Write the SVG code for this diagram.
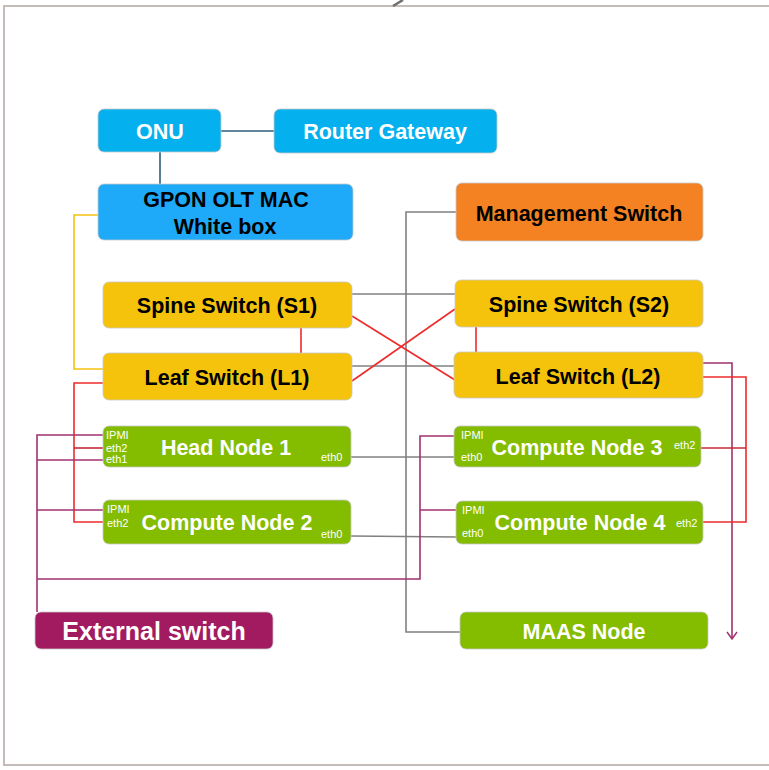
<svg xmlns="http://www.w3.org/2000/svg" width="769" height="770" viewBox="0 0 769 770">
<style>
.box{stroke:#c8c8c8;stroke-width:0.8}
.big{font-family:"Liberation Sans",Arial,sans-serif;font-weight:bold;font-size:21.5px;text-anchor:middle}
.w{fill:#ffffff}
.k{fill:#000000}
.sm{font-family:"Liberation Sans",Arial,sans-serif;font-size:11px;fill:#ffffff}
.c{fill:none;stroke-width:1.6}
.gray{stroke:#808080}
.red{stroke:#ee2b2b}
.dred{stroke:#c8283a}
.pur{stroke:#a0326f}
.yel{stroke:#f5c30c}
.teal{stroke:#2d5f7f}
</style>
<defs>
<marker id="arr" markerWidth="12" markerHeight="12" refX="10" refY="6" orient="auto" markerUnits="userSpaceOnUse">
<path d="M3,1 L10,6 L3,11" fill="none" stroke="#a0326f" stroke-width="1.5"/>
</marker>
</defs>
<rect x="0" y="0" width="769" height="770" fill="#ffffff"/>
<g id="frame">
<path d="M769,6 L4,6 L4,765 L769,765" fill="none" stroke="#c4bcb8" stroke-width="2"/>
<line x1="393" y1="6" x2="403" y2="0" stroke="#6e6e6e" stroke-width="2.5"/>
</g>
<g id="connectors">
<line class="c teal" x1="221" y1="131" x2="274" y2="131"/>
<line class="c teal" x1="160" y1="152" x2="160" y2="184"/>
<polyline class="c yel" points="98,215 74,215 74,369 103,369"/>
<polyline class="c gray" points="456,212 406,212 406,632 460,632"/>
<line class="c gray" x1="352" y1="294" x2="455" y2="294"/>
<line class="c gray" x1="352" y1="366" x2="454" y2="366"/>
<line class="c red" x1="301" y1="328" x2="301" y2="353"/>
<line class="c red" x1="476" y1="327" x2="476" y2="352"/>
<line class="c red" x1="352" y1="316" x2="455" y2="380"/>
<line class="c red" x1="352" y1="381" x2="455" y2="309"/>
<polyline class="c red" points="103,383 74,383 74,522 103,522"/>
<line class="c dred" x1="74" y1="448" x2="103" y2="448"/>
<line class="c gray" x1="351" y1="457" x2="454" y2="457"/>
<line class="c gray" x1="351" y1="536" x2="456" y2="537"/>
<polyline class="c pur" points="103,435 37,435 37,612"/>
<line class="c pur" x1="37" y1="460" x2="103" y2="460"/>
<line class="c pur" x1="37" y1="510" x2="103" y2="510"/>
<polyline class="c pur" points="37,579 420,579 420,436 454,436"/>
<line class="c pur" x1="420" y1="510" x2="456" y2="510"/>
<polyline class="c pur" points="703,363 732,363 732,639" marker-end="url(#arr)"/>
<polyline class="c red" points="703,377 746,377 746,522 703,522"/>
<line class="c dred" x1="701" y1="448" x2="746" y2="448"/>
</g>
<g id="onu">
<rect class="box" x="98" y="109" width="123" height="43" rx="6" fill="#05b0ee"/>
<text class="big w" x="160" y="139">ONU</text>
</g>
<g id="router">
<rect class="box" x="274" y="109" width="223" height="44" rx="6" fill="#05b0ee"/>
<text class="big w" x="385" y="139">Router Gateway</text>
</g>
<g id="gpon">
<rect class="box" x="98" y="184" width="255" height="56" rx="6" fill="#1eaaf8"/>
<text class="big k" x="226" y="207">GPON OLT MAC</text>
<text class="big k" x="225" y="234">White box</text>
</g>
<g id="mgmt">
<rect class="box" x="456" y="183" width="247" height="58" rx="6" fill="#f48222"/>
<text class="big k" x="579" y="221">Management Switch</text>
</g>
<g id="s1">
<rect class="box" x="103" y="282" width="249" height="46" rx="6" fill="#f5c30c"/>
<text class="big k" x="227" y="313">Spine Switch (S1)</text>
</g>
<g id="s2">
<rect class="box" x="455" y="280" width="248" height="47" rx="6" fill="#f5c30c"/>
<text class="big k" x="579" y="312">Spine Switch (S2)</text>
</g>
<g id="l1">
<rect class="box" x="103" y="353" width="249" height="47" rx="6" fill="#f5c30c"/>
<text class="big k" x="227" y="385">Leaf Switch (L1)</text>
</g>
<g id="l2">
<rect class="box" x="454" y="352" width="249" height="46" rx="6" fill="#f5c30c"/>
<text class="big k" x="578" y="384">Leaf Switch (L2)</text>
</g>
<g id="head1">
<rect class="box" x="103" y="426" width="248" height="41" rx="6" fill="#84bc00"/>
<text class="big w" x="226" y="455">Head Node 1</text>
<text class="sm" x="106" y="439">IPMI</text>
<text class="sm" x="106" y="452">eth2</text>
<text class="sm" x="106" y="463">eth1</text>
<text class="sm" x="321" y="461">eth0</text>
</g>
<g id="compute2">
<rect class="box" x="103" y="500" width="248" height="44" rx="6" fill="#84bc00"/>
<text class="big w" x="227" y="530">Compute Node 2</text>
<text class="sm" x="107" y="513">IPMI</text>
<text class="sm" x="107" y="527">eth2</text>
<text class="sm" x="321" y="538">eth0</text>
</g>
<g id="compute3">
<rect class="box" x="454" y="426" width="247" height="41" rx="6" fill="#84bc00"/>
<text class="big w" x="577" y="455">Compute Node 3</text>
<text class="sm" x="461" y="439">IPMI</text>
<text class="sm" x="461" y="461">eth0</text>
<text class="sm" x="674" y="449">eth2</text>
</g>
<g id="compute4">
<rect class="box" x="456" y="501" width="247" height="43" rx="6" fill="#84bc00"/>
<text class="big w" x="580" y="530">Compute Node 4</text>
<text class="sm" x="462" y="514">IPMI</text>
<text class="sm" x="462" y="537">eth0</text>
<text class="sm" x="676" y="527">eth2</text>
</g>
<g id="external">
<rect class="box" x="35" y="612" width="238" height="37" rx="6" fill="#a21a5f"/>
<text class="big w" x="154" y="640" style="font-size:25px">External switch</text>
</g>
<g id="maas">
<rect class="box" x="460" y="612" width="248" height="37" rx="6" fill="#84bc00"/>
<text class="big w" x="584" y="639">MAAS Node</text>
</g>
</svg>
